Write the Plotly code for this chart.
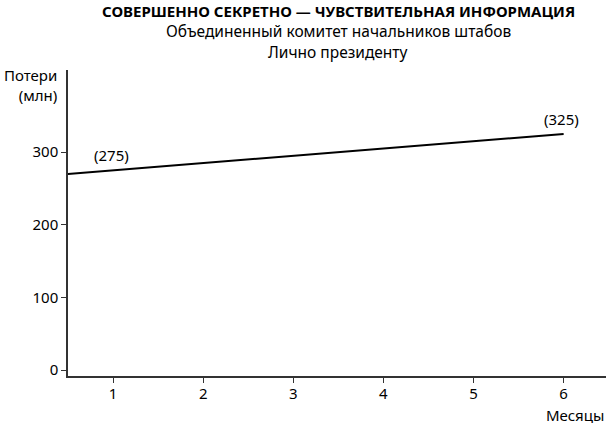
import plotly.graph_objects as go

months = [0, 1, 2, 3, 4, 5, 6]
losses = [265, 275, 285, 295, 305, 315, 325]
x_ticks = [1, 2, 3, 4, 5, 6]
y_ticks = [0, 100, 200, 300]
label_months = [1, 6]
label_values = [275, 325]
label_texts = ["(275)", "(325)"]

title = "<b>СОВЕРШЕННО СЕКРЕТНО — ЧУВСТВИТЕЛЬНАЯ ИНФОРМАЦИЯ</b>"
subtitle1 = "Объединенный комитет начальников штабов"
subtitle2 = "Лично президенту"
y_title = "Потери<br>(млн)"
x_title = "Месяцы"

FONT = "Noto Sans"
L, T, PW, PH = 68, 70, 538, 306


def px(x):
    return (x - L) / PW


def py(y):
    return 1 - (y - T) / PH


fig = go.Figure()
fig.add_trace(go.Scatter(x=months, y=losses, mode="lines",
                         line=dict(color="black", width=2), showlegend=False,
                         hoverinfo="skip"))

for m, v, t in zip(label_months, label_values, label_texts):
    fig.add_annotation(x=m, y=v, text=t, showarrow=False, xanchor="center",
                       yanchor="bottom", yshift=4, xshift=-2, borderpad=0,
                       font=dict(family=FONT, size=15, color="black"))

fig.update_layout(
    width=606, height=425,
    margin=dict(l=L, r=606 - L - PW, t=T, b=425 - T - PH),
    paper_bgcolor="white", plot_bgcolor="white",
    font=dict(family=FONT, size=15, color="black"),
    xaxis=dict(range=[0.5, 6.47], tickvals=x_ticks, showgrid=False, zeroline=False,
               showline=True, linecolor="#333", linewidth=1.5,
               ticks="outside", ticklen=5, tickcolor="#333", tickwidth=1,
               ticklabelstandoff=-2,
               tickfont=dict(family=FONT, size=15)),
    yaxis=dict(range=[-8, 413], tickvals=y_ticks, showgrid=False, zeroline=False,
               showline=True, linecolor="#333", linewidth=1.5,
               ticks="outside", ticklen=5, tickcolor="#333", tickwidth=1,
               tickfont=dict(family=FONT, size=15)),
)

header = [
    (title, 11, 15),
    (subtitle1, 31, 15.5),
    (subtitle2, 51.5, 15.5),
]
for txt, yc, s in header:
    fig.add_annotation(xref="paper", yref="paper", x=px(338), y=py(yc), text=txt,
                       showarrow=False, xanchor="center", yanchor="middle", borderpad=0,
                       font=dict(family=FONT, size=s, color="black"))

fig.add_annotation(xref="paper", yref="paper", x=px(605), y=py(414.5), text=x_title,
                   showarrow=False, xanchor="right", yanchor="middle", borderpad=0,
                   font=dict(family=FONT, size=15, color="black"))
fig.add_annotation(xref="paper", yref="paper", x=px(58), y=py(64), text=y_title,
                   showarrow=False, xanchor="right", yanchor="top", align="right",
                   borderpad=0, font=dict(family=FONT, size=15, color="black"))

fig.write_html("out.html", config={"displayModeBar": False},
               post_script="document.body.style.margin='0';document.body.style.overflow='hidden';")
